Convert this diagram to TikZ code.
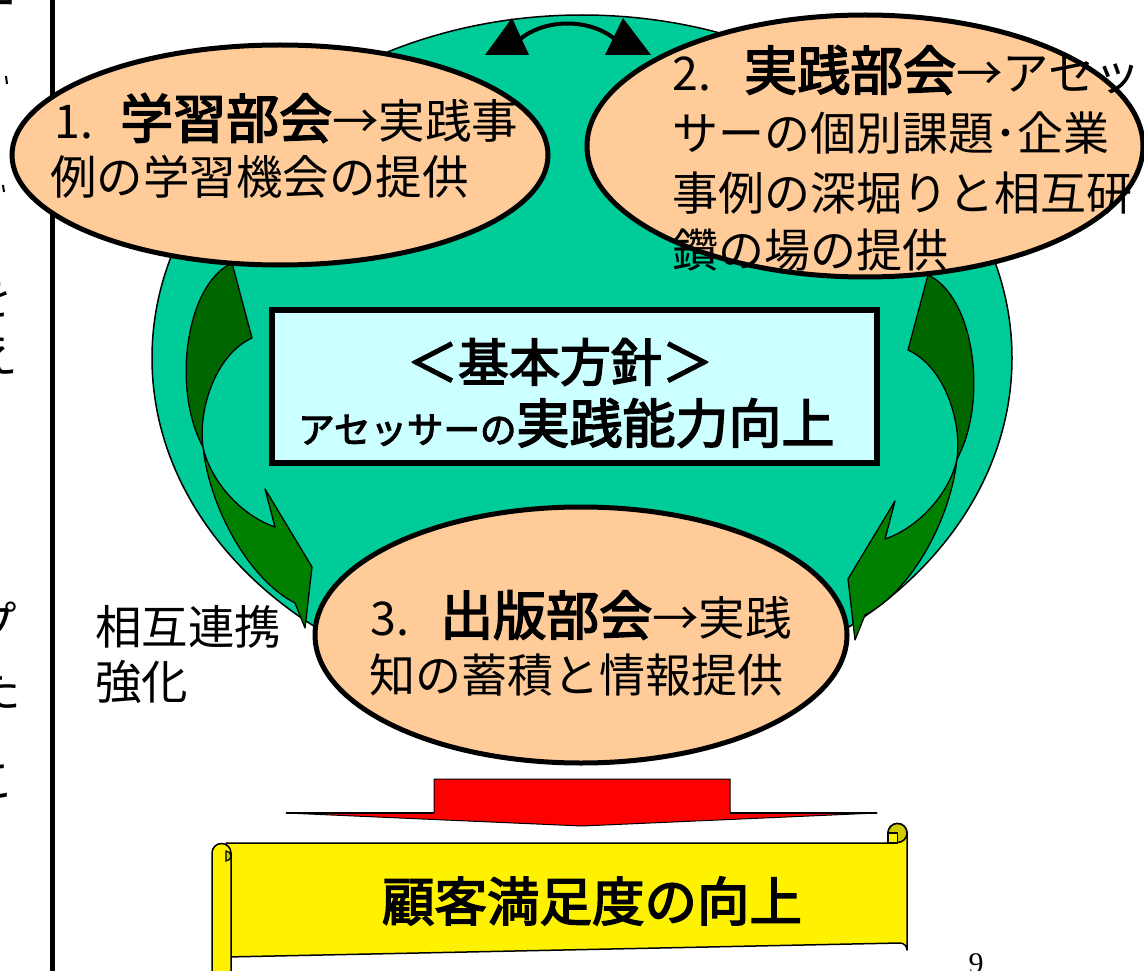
\documentclass[tikz,border=0pt]{standalone}
\usepackage{fontspec}
\newfontfamily\jp{Noto Sans CJK JP}
\newfontfamily\jpb[FakeBold=3]{Noto Sans CJK JP}
\newfontfamily\pgserif{Liberation Serif}
\usetikzlibrary{shapes.geometric}
\definecolor{tealfill}{HTML}{00CC99}
\definecolor{peach}{HTML}{FFCC99}
\definecolor{lcyan}{HTML}{CCFFFF}
\definecolor{dgreen}{HTML}{006600}
\definecolor{mgreen}{HTML}{008000}
\definecolor{curlyel}{HTML}{CCCC00}
\newcommand\hvy[1]{{\jpb\fontsize{53}{60}\selectfont #1}}
\newcommand\rarr{\makebox[1em]{→}}
\newcommand\greenarc{%
  \filldraw[fill=dgreen, draw=black, line width=1.3pt, line join=round]
    (232,263) .. controls (185,285) and (172,390) .. (203,447)
    .. controls (198,410) and (215,355) .. (252,338) -- cycle;
  \filldraw[fill=mgreen, draw=black, line width=1.3pt, line join=round]
    (203,447) .. controls (210,510) and (250,580) .. (295,603)
    -- (305,628) -- (312,567) -- (265,489) -- (275,527)
    .. controls (240,515) and (210,480) .. (203,447) -- cycle;
}
\begin{document}
\begin{tikzpicture}[x=1pt,y=-1pt,
  bubble/.style={ellipse, draw=black, line width=5pt, fill=peach, inner sep=0pt},
  jtxt/.style={anchor=west, inner sep=0pt, font=\jp\fontsize{46.5}{56}\selectfont},
  frag/.style={inner sep=0pt, font=\jp\fontsize{46.5}{56}\selectfont}]
\path[use as bounding box, fill=white] (0,0) rectangle (1144,971);

% left margin fragments and rule
\draw[line width=5pt] (52.5,-5) -- (52.5,980);
\node[frag] (f1) at (-6,10) {ー};
\draw[line width=2pt] (6,76) -- (7,84);
\draw[line width=2pt] (3,185) -- (4,192);
\node[frag] (f2) at (-10,298) {を};
\node[frag] (f3) at (-5,355) {え};
\node[frag] (f4) at (-6,622) {プ};
\node[frag] (f5) at (-2,690) {た};
\node[frag] (f6) at (-8,782) {こ};

% teal base
\node[ellipse, draw=black, line width=1.5pt, fill=tealfill, minimum width=860pt, minimum height=686pt, inner sep=0pt] (base) at (582,358) {};

% curved green arrows
\greenarc
\begin{scope}[shift={(1160,12)}, xscale=-1]
\greenarc
\end{scope}

% policy box
\node[draw=black, line width=6pt, fill=lcyan, minimum width=605pt, minimum height=153pt, inner sep=0pt] (policy) at (574.5,386.5) {};
\node[inner sep=0pt, font=\jpb\fontsize{51}{56}\selectfont] (ph1) at (560,362) {＜基本方針＞};
\node[anchor=west, inner sep=0pt] (ph2) at (298,423) {{\jpb\fontsize{36.5}{40}\selectfont アセッサーの}{\jpb\fontsize{53}{58}\selectfont 実践能力向上}};

% bubbles
\node[bubble, minimum width=536pt, minimum height=220pt] (g1) at (280,155) {};
\node[bubble, minimum width=556pt, minimum height=262pt] (g2) at (865,146) {};
\node[bubble, minimum width=532pt, minimum height=256pt] (g3) at (581,635) {};

\node[jtxt] (g1a) at (54,118) {\makebox[66pt][l]{1.}\hvy{学習部会}\rarr 実践事};
\node[jtxt] (g1b) at (50,177) {例の学習機会の提供};

\node[jtxt] (g2a) at (672,70) {\makebox[72pt][l]{2.}\hvy{実践部会}\rarr アセッ};
\node[jtxt, font=\jp\fontsize{46}{56}\selectfont] (g2b) at (672,133) {サーの個別課題･企業};
\node[jtxt, font=\jp\fontsize{46}{56}\selectfont] (g2c) at (672,193) {事例の深堀りと相互研};
\node[jtxt, font=\jp\fontsize{46}{56}\selectfont] (g2d) at (672,250) {鑽の場の提供};

\node[jtxt] (g3a) at (370,615) {\makebox[70pt][l]{3.}\hvy{出版部会}\rarr 実践};
\node[jtxt, font=\jp\fontsize{46}{56}\selectfont] (g3b) at (369,675) {知の蓄積と情報提供};

\node[jtxt] (link1) at (95,627) {相互連携};
\node[jtxt] (link2) at (95,682) {強化};

% double arrow between bubbles 1 and 2
\coordinate (da1) at (519,40);
\coordinate (da2) at (616,40);
\draw[line width=4pt] (da1) .. controls (545,18) and (590,18) .. (da2);
\fill[black] (512,18) -- (485,55) -- (529,55) -- cycle;
\fill[black] (623,18) -- (605,55) -- (651,55) -- cycle;

% red arrow
\filldraw[fill=red, draw=black, line width=1pt, line join=round]
  (434,779) -- (730,779) -- (730,813) -- (877,813) -- (582,826) -- (286,813) -- (434,813) -- cycle;
\draw[line width=2.5pt] (286,813) -- (434,813);
\draw[line width=2.5pt] (730,813) -- (877,813);

% scroll
\filldraw[fill=yellow, draw=black, line width=1.5pt, line join=round]
  (226,843) -- (888,843) -- (888,833) arc[start angle=180, end angle=0, radius=9.5pt]
  -- (907,950) arc[start angle=0, end angle=90, radius=7pt] -- (226,957) -- cycle;
\filldraw[fill=curlyel, draw=black, line width=1.5pt] (897.5,833) circle[radius=9.5pt];
\filldraw[fill=yellow, draw=black, line width=1.2pt] (888,833) rectangle (897.5,843);
\filldraw[fill=yellow, draw=black, line width=1.5pt, line join=round]
  (212,990) -- (212,853) arc[start angle=180, end angle=0, radius=9.5pt] -- (231,990);
\filldraw[fill=curlyel, draw=black, line width=1.2pt] (226,861) arc[start angle=-90, end angle=90, radius=5pt] -- cycle;
\node[inner sep=0pt, font=\jpb\fontsize{52.5}{60}\selectfont] (goal) at (592,901) {顧客満足度の向上};

% page number
\node[anchor=base, inner sep=0pt, font=\pgserif\fontsize{30}{30}\selectfont] (pg) at (976,973) {9};
\end{tikzpicture}
\end{document}
